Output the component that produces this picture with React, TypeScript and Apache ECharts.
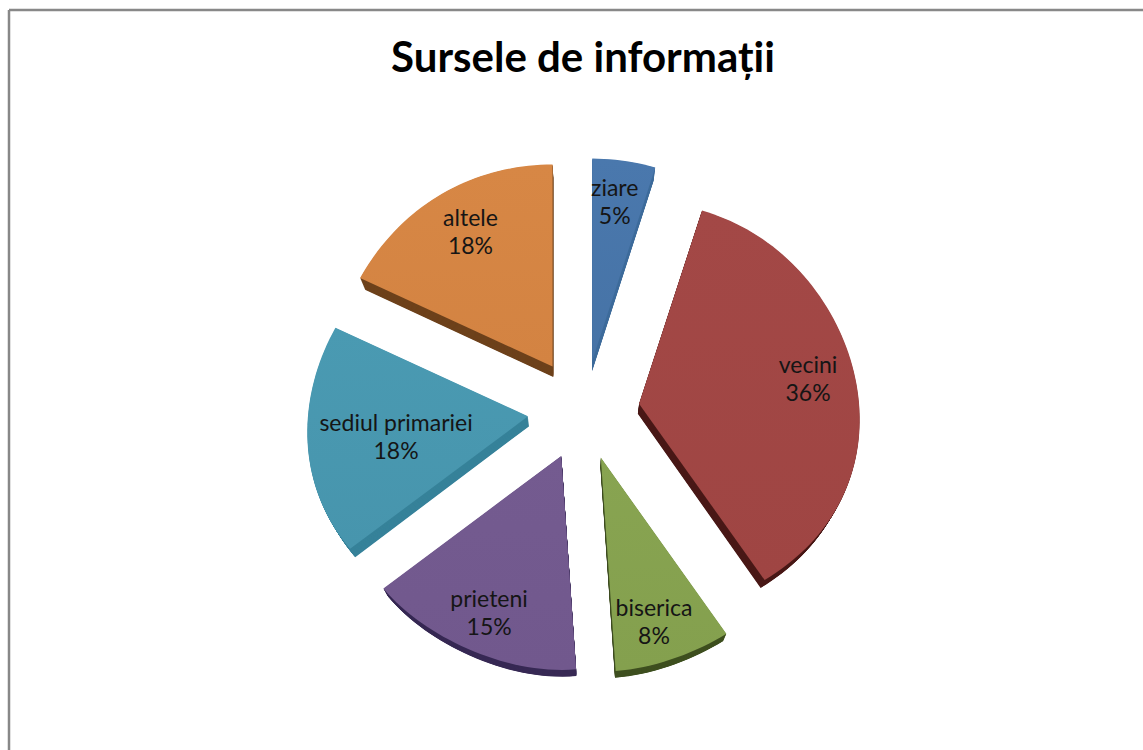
import React, { useEffect, useRef } from "react";
import * as echarts from "echarts";

const categories = ["ziare", "vecini", "biserica", "prieteni", "sediul primariei", "altele"];
const values = [5, 36, 8, 15, 18, 18];
const titleText = "Sursele de informații";

const topColors = ["#4a78ad", "#a34846", "#88a451", "#745b90", "#4a9ab2", "#d78745"];
const bottomColors = ["#4673a6", "#9f4543", "#84a04e", "#71588d", "#4795ad", "#d38342"];
const sideColors = ["#3f6c9c", "#4a1a18", "#3f5020", "#382a55", "#37829a", "#6e421c"];
const labelReach = [0.75, 0.795, 0.8, 0.8, 0.62, 0.735];
const labelTurnDeg = [-1.0, -1.4, 0, 1.4, -1.2, 1.1];
const explodeScale = [1, 1, 1, 1, 1, 1.03];

const total = values.reduce((a, b) => a + b, 0);

function renderSlice(params: any, api: any) {
  const i = params.dataIndex;
  const cx = 583.5, cy = 410;
  const before = values.slice(0, i).reduce((a, b) => a + b, 0);
  const a0 = (before / total) * Math.PI * 2;
  const a1 = ((before + api.value(0)) / total) * Math.PI * 2;
  const mid = (a0 + a1) / 2;
  const ax = cx + 56 * explodeScale[i] * Math.sin(mid);
  const ay = cy - 50 * explodeScale[i] * Math.cos(mid);
  const pts: number[][] = [[ax, ay]];
  const steps = Math.max(6, Math.ceil((a1 - a0) / 0.03));
  for (let s = 0; s <= steps; s++) {
    const t = a0 + ((a1 - a0) * s) / steps;
    const c = Math.cos(t);
    const rx = 220 - 17 * c;
    const ry = 208 - 6 * Math.pow(Math.max(0, c), 4) + 6 * Math.pow(Math.max(0, -c), 12);
    pts.push([ax + rx * Math.sin(t), ay - ry * c]);
  }
  const children: any[] = [];
  const layers = 20;
  for (let d = layers; d >= 1; d--) {
    const f = d / layers;
    children.push({
      type: "polygon",
      shape: {
        points: pts.map((p) => [
          p[0] - f * 0.022 * (p[0] - cx),
          p[1] + f * (10 - 0.0125 * (p[1] - cy)),
        ]),
      },
      style: { fill: sideColors[i] },
    });
  }
  children.push({
    type: "polygon",
    shape: { points: pts },
    style: {
      fill: new echarts.graphic.LinearGradient(0, 0, 0, 1, [
        { offset: 0, color: topColors[i] },
        { offset: 1, color: bottomColors[i] },
      ]),
    },
  });
  const reach = labelReach[i] * 215;
  const la = mid + (labelTurnDeg[i] * Math.PI) / 180;
  children.push({
    type: "text",
    style: {
      text: `${categories[i]}\n${api.value(0)}%`,
      x: ax + reach * Math.sin(la),
      y: ay - reach * Math.cos(la),
      align: "center",
      verticalAlign: "middle",
      fill: "#151515",
      font: "23px Lato",
      lineHeight: 28,
    },
  });
  return { type: "group", children };
}

export default function App() {
  const ref = useRef<HTMLDivElement>(null);
  useEffect(() => {
    document.body.style.margin = "0";
    const chart = echarts.init(ref.current!, undefined, { renderer: "svg" });
    chart.setOption({
      animation: false,
      backgroundColor: "#ffffff",
      title: {
        text: titleText,
        left: 578,
        top: 30,
        textAlign: "center",
        textStyle: { fontFamily: "Lato", fontWeight: "bold", fontSize: 42, color: "#000" },
      },
      graphic: [
        { type: "line", shape: { x1: 9, y1: 10, x2: 1143, y2: 10 }, style: { stroke: "#888", lineWidth: 2.5 } },
        { type: "line", shape: { x1: 9, y1: 10, x2: 9, y2: 750 }, style: { stroke: "#888", lineWidth: 2.5 } },
      ],
      series: [
        {
          type: "custom",
          coordinateSystem: "none",
          renderItem: renderSlice,
          data: values.map((v, i) => ({ name: categories[i], value: [v] })),
        },
      ],
    });
    return () => chart.dispose();
  }, []);
  return <div ref={ref} style={{ width: 1143, height: 750 }} />;
}
